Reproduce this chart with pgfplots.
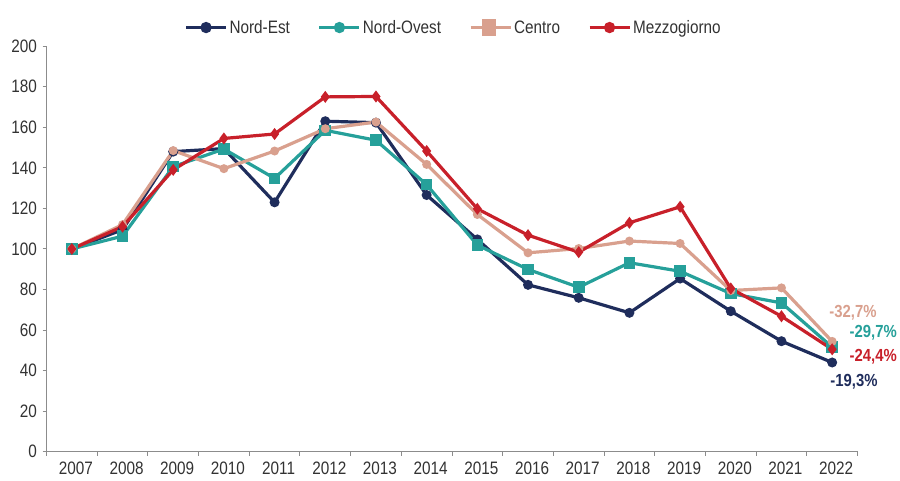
\documentclass[border=0pt]{standalone}
\usepackage{pgfplots}
\pgfplotsset{compat=1.18}
\usepackage{fontspec}
\setmainfont{Liberation Sans}[FakeStretch=0.85]
\definecolor{ne}{RGB}{31,45,92}
\definecolor{no}{RGB}{38,160,154}
\definecolor{ce}{RGB}{217,160,142}
\definecolor{me}{RGB}{200,32,42}
\definecolor{txt}{RGB}{50,50,50}
\definecolor{axg}{RGB}{140,140,140}
\begin{document}
\begin{tikzpicture}
\path[use as bounding box] (0,0) rectangle (900pt,480pt);
\begin{axis}[
  at={(46.5pt,28.3pt)}, anchor=south west,
  scale only axis, width=811pt, height=405.5pt,
  xmin=-0.5, xmax=15.5, ymin=0, ymax=200,
  clip=false,
  axis x line*=bottom, axis y line*=left,
  axis line style={draw=axg, line width=1.3pt, -},
  xtick={0,...,15},
  xticklabels={2007,2008,2009,2010,2011,2012,2013,2014,2015,2016,2017,2018,2019,2020,2021,2022},
  minor xtick={-0.5,0.5,...,15.5},
  ytick={0,20,...,200},
  tick align=outside,
  major x tick style={draw=none},
  minor tick length=4pt, major tick length=4pt,
  every tick/.style={draw=axg, line width=1pt},
  every minor tick/.style={draw=axg, line width=1pt},
  tick label style={font=\fontsize{18}{20}\selectfont, text=txt},
  xticklabel style={xshift=4pt, yshift=-3pt},
  yticklabel style={xshift=-2pt},
  /pgf/number format/assume math mode=true,
  legend columns=4,
  legend style={at={(0.502,1.046)}, anchor=center, draw=none, fill=none,
    font=\fontsize{18}{20}\selectfont, text=txt,
    /tikz/every even column/.append style={column sep=26pt},
    inner sep=0pt, cells={anchor=west}},
]
\addplot[ne, line width=3.2pt, mark=*, mark size=3.3pt, mark options={solid},
  legend image code/.code={\draw[ne,line width=3pt] (0pt,0pt)--(40pt,0pt); \fill[ne] (20pt,0pt) circle (4pt);}]
  coordinates {(0,100)(1,109.5)(2,148)(3,149.5)(4,123)(5,163)(6,162.3)(7,126.6)(8,104.7)(9,82.3)(10,75.9)(11,68.5)(12,85.4)(13,69.3)(14,54.5)(15,44.0)};
\addlegendentry{Nord-Est}
\addplot[no, line width=3.2pt, mark=square*, mark size=4.2pt,
  legend image code/.code={\draw[no,line width=3pt] (0pt,0pt)--(40pt,0pt); \fill[no] (20pt,0pt) circle (4pt);}]
  coordinates {(0,100)(1,106.3)(2,140.6)(3,149.3)(4,134.8)(5,158.5)(6,153.6)(7,131.7)(8,101.9)(9,89.9)(10,81.1)(11,93.2)(12,89)(13,78)(14,73.4)(15,51.6)};
\addlegendentry{Nord-Ovest}
\addplot[ce, line width=3.2pt, mark=*, mark size=2.8pt,
  legend image code/.code={\draw[ce,line width=3pt] (0pt,0pt)--(40pt,0pt); \fill[ce] (13pt,-7pt) rectangle (24pt,7pt);}]
  coordinates {(0,100)(1,112)(2,148.5)(3,139.6)(4,148.3)(5,159.3)(6,162.6)(7,141.7)(8,117)(9,98.1)(10,100.2)(11,103.9)(12,102.7)(13,79.5)(14,80.8)(15,54.4)};
\addlegendentry{Centro}
\addplot[me, line width=3.2pt, mark=diamond*, mark size=3.4pt,
  legend image code/.code={\draw[me,line width=3pt] (0pt,0pt)--(40pt,0pt); \fill[me] (20pt,0pt) circle (4pt);}]
  coordinates {(0,100)(1,111)(2,139)(3,154.5)(4,156.7)(5,175)(6,175.2)(7,148.3)(8,119.8)(9,106.8)(10,98.4)(11,112.9)(12,120.8)(13,80.5)(14,66.8)(15,50.5)};
\addlegendentry{Mezzogiorno}
\node[text=ce, font=\bfseries\fontsize{17.5}{19}\selectfont] at (axis cs:15.41,68.6) {-32,7\%};
\node[text=no, font=\bfseries\fontsize{17.5}{19}\selectfont] at (axis cs:15.81,58.8) {-29,7\%};
\node[text=me, font=\bfseries\fontsize{17.5}{19}\selectfont] at (axis cs:15.81,46.9) {-24,4\%};
\node[text=ne, font=\bfseries\fontsize{17.5}{19}\selectfont] at (axis cs:15.43,34.6) {-19,3\%};
\end{axis}
\end{tikzpicture}
\end{document}
